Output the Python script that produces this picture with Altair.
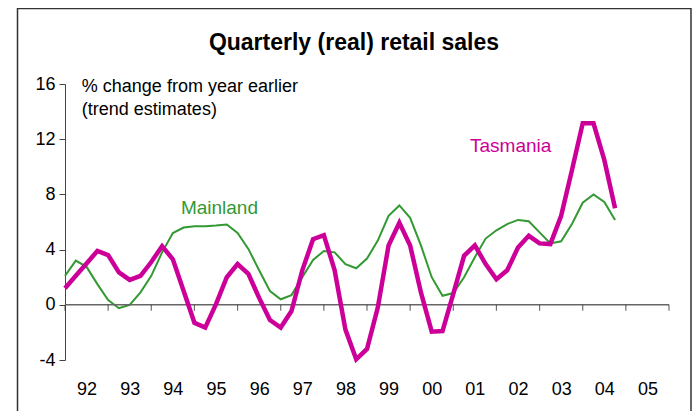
import altair as alt
import pandas as pd

# Quarterly data, first point = 1992 Q1
tasmania = [1.2, 2.1, 3.0, 3.9, 3.6, 2.35, 1.8, 2.1, 3.1, 4.25, 3.3, 1.0,
            -1.3, -1.65, 0.05, 2.0, 2.95, 2.25, 0.5, -1.1, -1.65, -0.45, 2.5, 4.75,
            5.05, 2.5, -1.8, -3.95, -3.2, -0.2, 4.3, 5.95, 4.3, 0.9, -1.95, -1.9,
            0.8, 3.55, 4.3, 2.95, 1.85, 2.5, 4.15, 5.0, 4.45, 4.4, 6.45, 9.75,
            13.15, 13.15, 10.5, 7.0]
mainland = [2.1, 3.2, 2.75, 1.5, 0.35, -0.25, 0.0, 0.9, 2.1, 3.8, 5.2, 5.6,
            5.7, 5.7, 5.75, 5.82, 5.2, 4.05, 2.5, 1.0, 0.4, 0.7, 2.0, 3.25,
            3.9, 3.8, 2.95, 2.65, 3.35, 4.65, 6.45, 7.2, 6.3, 4.3, 2.0, 0.65,
            0.85, 2.0, 3.45, 4.8, 5.4, 5.85, 6.15, 6.05, 5.25, 4.45, 4.6, 5.85,
            7.4, 8.0, 7.45, 6.15]
start_year = 1992
year_ticks = list(range(1992, 2007))
year_labels = [y + 0.5 for y in range(1992, 2006)]
y_ticks = [-4, 0, 4, 8, 12, 16]

MAG = "#CC0099"
GRN = "#339933"
FONT = "Liberation Sans"

n = len(tasmania)
t = [start_year + i / 4 for i in range(n)]
df = pd.DataFrame({
    "t": t * 2,
    "v": mainland + tasmania,
    "s": ["Mainland"] * n + ["Tasmania"] * n,
})

xs = alt.Scale(domain=[1992, 2006], nice=False, zero=False)
ys = alt.Scale(domain=[-4, 16], nice=False, zero=False)

xenc = alt.X("t:Q", scale=xs, axis=alt.Axis(
    values=year_labels, labelExpr="substring(toString(datum.value), 2, 4)",
    domain=False, ticks=False, grid=False, title=None,
    labelFontSize=18, labelFont=FONT, labelColor="#000", labelPadding=20))
yenc = alt.Y("v:Q", scale=ys, axis=alt.Axis(
    values=y_ticks, labelExpr="toString(datum.value)",
    grid=False, title=None, domainColor="#444", tickColor="#444",
    tickSize=6, labelFontSize=18, labelFont=FONT, labelColor="#000", labelPadding=4))

main_line = alt.Chart(df[df.s == "Mainland"]).mark_line(
    color=GRN, strokeWidth=2).encode(x=xenc, y=yenc)
tas_line = alt.Chart(df[df.s == "Tasmania"]).mark_line(
    color=MAG, strokeWidth=4.5, strokeJoin="miter").encode(x="t:Q", y="v:Q")

zero_df = pd.DataFrame({"x1": [1992], "x2": [2006], "y": [0]})
zero_line = alt.Chart(zero_df).mark_rule(color="#666", strokeWidth=1.5).encode(
    x="x1:Q", x2="x2:Q", y="y:Q")
tick_df = pd.DataFrame({"x": year_ticks, "y": [0] * len(year_ticks)})
tick_marks = alt.Chart(tick_df).mark_tick(
    orient="vertical", size=6, thickness=1.2, yOffset=3, color="#333").encode(
    x="x:Q", y="y:Q")

ann_df = pd.DataFrame({
    "x": [1992.39, 1992.39, 1995.58, 2002.33],
    "y": [15.78, 14.1, 7.05, 11.5],
    "txt": ["% change from year earlier", "(trend estimates)", "Mainland", "Tasmania"],
    "c": ["#000", "#000", GRN, MAG],
    "a": ["left", "left", "center", "center"],
})
ann_left = alt.Chart(ann_df[ann_df.a == "left"]).mark_text(
    align="left", baseline="middle", fontSize=18, font=FONT).encode(
    x="x:Q", y="y:Q", text="txt:N", color=alt.Color("c:N", scale=None))
ann_center = alt.Chart(ann_df[ann_df.a == "center"]).mark_text(
    align="center", baseline="middle", fontSize=19, font=FONT).encode(
    x="x:Q", y="y:Q", text="txt:N", color=alt.Color("c:N", scale=None))

title_df = pd.DataFrame({"txt": ["Quarterly (real) retail sales"]})
title = alt.Chart(title_df).mark_text(
    align="center", baseline="middle", fontSize=23, fontWeight="bold", font=FONT,
    color="#000").encode(x=alt.value(289), y=alt.value(-41), text="txt:N")

frame = alt.Chart(pd.DataFrame({"a": [0]})).mark_rect(
    fill=None, stroke="#333", strokeWidth=1.5).encode(
    x=alt.value(-47.5), x2=alt.value(626), y=alt.value(-75.5), y2=alt.value(340))

chart = alt.layer(
    main_line, zero_line, tick_marks, tas_line, ann_left, ann_center, title, frame
).properties(
    width=604, height=276,
    background="white",
    autosize=alt.AutoSizeParams(type="none"),
    padding={"left": 57, "top": 76, "right": 23, "bottom": 51},
).configure_view(stroke=None)

chart.save("out.html", embed_options={"renderer": "svg", "actions": False})
